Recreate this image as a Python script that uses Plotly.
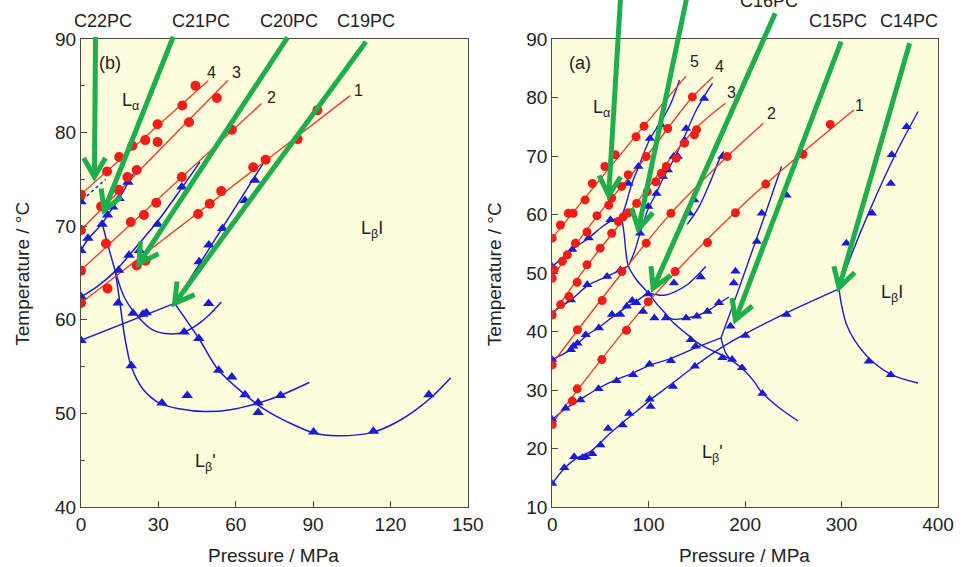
import math
import plotly.graph_objects as go

# ---------------------------------------------------------------
# Temperature-pressure phase diagrams of saturated diacyl PCs
# (b) C19PC-C22PC   (a) C14PC-C18PC
# ---------------------------------------------------------------

# ---- panel (b): red transition lines (pressure MPa, temperature C) ----
B_RED_LINE_1 = [(0, 61.8), (104.4, 83.95)]
B_RED_LINE_2 = [(0, 65.3), (70, 83.1)]
B_RED_LINE_3 = [(0, 69.6), (57, 85.6)]
B_RED_LINE_4 = [(0, 73.4), (49.3, 85.55)]

B_RED_DOTS = [
    (0, 61.8), (10.3, 63.35), (21.6, 65.8), (25, 66.3), (45.4, 71.3), (49.9, 72.4),
    (54.4, 73.75), (66.8, 76.3), (71.6, 77.1), (84, 79.3), (91.7, 82.4),
    (0, 65.25), (9.7, 68.15), (19.3, 70.45), (24.4, 71.2), (29.2, 72.5), (39.1, 75.25), (58.5, 80.3),
    (0, 69.6), (7.8, 72.1), (14.6, 73.9), (18, 75.25), (21.6, 76.0), (29.7, 79.0), (41.9, 81.1), (52.7, 83.7),
    (0, 73.35), (10.1, 75.85), (14.8, 77.4), (19.9, 78.6), (24.9, 79.2), (29.7, 80.9), (39.3, 82.9), (44.4, 85.0),
]

# ---- panel (b): blue transition curves ----
B_BLUE_1 = [(0, 67.4), (2.7, 68.6), (8.2, 70.3), (12.3, 72.0), (14.8, 73.0), (18.2, 74.6), (20.3, 75.6)]
B_BLUE_2 = [(8.2, 70.3), (10.8, 67.6), (13.3, 65.2)]
B_BLUE_3 = [(0, 62.45), (6.5, 63.6), (13.3, 65.2), (19.9, 67.3), (29.5, 70.45), (39.1, 74.1), (46.1, 76.85)]
B_BLUE_4 = [(13.3, 65.2), (15.1, 61.8), (17, 58.1), (19.5, 55.0), (24, 52.6), (30.4, 51.1), (38, 50.5),
            (48.3, 50.2), (58, 50.4), (68.7, 51.1), (78, 52), (88.5, 53.3)]
B_BLUE_5 = [(13.3, 65.2), (17, 62.3), (22.7, 60.15), (28, 58.9), (34.2, 58.5), (40, 58.7), (45.7, 59.6),
            (50, 60.6), (54.4, 61.9)]
B_BLUE_6 = [(0, 57.8), (36.3, 61.75)]
B_BLUE_7 = [(36.3, 61.75), (45.7, 58.0), (53.4, 54.6), (63.6, 52.0), (71.3, 50.4), (80, 49.1), (90.4, 47.9),
            (99.3, 47.6), (113.4, 48.0), (122, 49), (130, 50.4), (137, 52), (143.4, 53.8)]
B_BLUE_8 = [(36.3, 61.75), (71.3, 77.0)]
B_BLUE_DOTTED = [(0.5, 72.8), (9.5, 75.0)]

B_BLUE_TRIANGLES = [
    (0, 72.6), (0, 67.4), (0, 62.5), (0, 57.8),
    (2.7, 68.7), (8.2, 70.2), (10.3, 71.2), (12.3, 72.05), (14.8, 72.95), (18.2, 74.7),
    (14.6, 65.3), (18.6, 66.9), (22.7, 67.4), (29.7, 70.2), (39.1, 74.2),
    (14.4, 61.8), (19.5, 55.1), (31.4, 51.1), (41.2, 51.9), (68.7, 50.1), (68.7, 51.15), (77.4, 51.9),
    (20.2, 60.7), (24, 60.6), (25.3, 60.75), (40, 58.7), (49.5, 61.75),
    (45.7, 58.0), (53.4, 54.6), (58.5, 53.9), (63.6, 52.0), (90.2, 48.0), (113.4, 48.1), (134.9, 52.0),
    (45.8, 66.2), (49.6, 68.0), (54.9, 69.75), (63.6, 72.75), (67.4, 74.9),
]

# ---- panel (a): red transition lines ----
A_RED_LINE_1 = [(0, 24.3), (100, 45.1), (200, 62.0), (312.8, 77.85)]
A_RED_LINE_2 = [(0, 34.5), (72.3, 50.0), (123, 60.2), (182, 70.0), (219, 75.6)]
A_RED_LINE_3 = [(0, 42.7), (36, 51.2), (79, 60.2), (147, 74.4), (179.7, 79.0)]
A_RED_LINE_4 = [(0, 49.3), (46, 59.6), (98, 70.0), (145, 80.0), (166.8, 83.5)]
A_RED_LINE_5 = [(0, 55.95), (95, 75.1), (138.8, 83.65)]

A_RED_DOTS = [
    (0, 24.1), (20.8, 28.1), (25.9, 30.2), (51.5, 35.2), (77, 40.2), (99.6, 45.1), (127.5, 50.25),
    (161, 55.2), (190, 60.3), (221.4, 65.2), (260, 70.3), (288.3, 75.4),
    (0, 34.3), (26.2, 40.3), (51.8, 45.3), (72.3, 50.25), (97.5, 55.1), (123.1, 60.2), (181.5, 69.9),
    (0, 42.8), (8.8, 44.6), (17.4, 46.0), (25.9, 48.4), (36.1, 51.4), (49.7, 54.25), (61.7, 56.8),
    (68.6, 58.8), (73.7, 59.6), (79.1, 60.3), (87.6, 61.9), (98.6, 63.9), (107.5, 65.6), (113.2, 67.05),
    (118.3, 68.2), (128.6, 69.6), (137.2, 72.2), (147.4, 73.6), (149.7, 74.5),
    (0, 49.1), (2, 50.55), (10.5, 52.0), (15.7, 53.1), (24.2, 55.1), (36.1, 57.0), (46.4, 59.8),
    (58.6, 61.6), (61.7, 62.8), (72, 64.8), (78.8, 66.8), (97.5, 69.9), (119.8, 74.7), (145.3, 80.1),
    (0, 55.95), (8.5, 58.2), (16.7, 60.2), (21.8, 60.2), (34.1, 62.5), (41.6, 65.3), (54.6, 68.2),
    (65.5, 70.2), (87, 73.3), (95.2, 75.1),
]

# ---- panel (a): blue transition curves ----
A_BLUE_1 = [(0, 14), (12.6, 16.6), (25, 18.3), (40, 19.5), (50, 21), (60, 22.6), (75, 24.7), (90, 26.7),
            (100, 28.1), (125, 31.2), (148, 34.1), (165, 36.1), (180, 37.7), (200, 39.6), (243, 43.2),
            (297.4, 47.3)]
A_BLUE_2 = [(0, 24.95), (13.9, 26.8), (29.3, 28.4), (48.1, 30.3), (66.8, 31.8), (83.9, 32.9),
            (100.9, 34.2), (123.1, 35.4), (148.7, 37.2), (175, 38.9)]
A_BLUE_3 = [(175, 38.9), (183, 42.5), (195, 48), (210, 55), (222, 60.6), (237.8, 68.2)]
A_BLUE_4 = [(175, 38.9), (180, 36.3), (186, 35.0)]
A_BLUE_5 = [(72, 59.6), (74.5, 56.8), (76.5, 53.5), (79, 51.2), (87.6, 48.8), (99.6, 46.6), (108, 44.8),
            (116.7, 43.2), (125.2, 41.6), (142.3, 39.2), (152.5, 37.9), (165, 36.8), (179.7, 35.7),
            (190, 34.6), (200, 33.2), (210, 31.3), (217.3, 29.6), (235, 27), (254.9, 24.7)]
A_BLUE_6 = [(0, 35.2), (19.4, 36.9), (34.8, 39.2), (48.4, 40.7), (62, 42.4), (77.4, 44.2), (90, 45.5),
            (99.6, 46.6)]
A_BLUE_7 = [(99.6, 46.6), (108, 46.3), (116, 46.2), (126, 46.7), (140, 48), (150, 49.5), (159.3, 51.1)]
A_BLUE_8 = [(116, 42.9), (125.2, 42.1), (138.8, 42.3), (150, 42.7), (161, 43.5), (172.9, 44.8),
            (183.2, 45.9)]
A_BLUE_9 = [(0, 51.1), (20.8, 54), (37.9, 56), (51.8, 57.9), (62, 59.0), (72, 59.6)]
A_BLUE_10 = [(72, 59.6), (76, 61.5), (82.5, 65.2), (89.4, 68.1), (101.3, 72.9), (111.6, 75.6),
             (122, 78.6), (132, 83)]
A_BLUE_11 = [(0, 43.3), (19.4, 45.4), (36.4, 47.8), (56.9, 49.4), (70.6, 50.5), (79, 51.2)]
A_BLUE_12 = [(79, 51.2), (85, 53.5), (91.1, 56.8), (99.6, 61.0), (108.1, 63.7), (115, 66.2), (125, 69.1),
             (138, 73.6), (148, 77.4), (157.6, 80.2), (166.2, 82.4)]
A_BLUE_13 = [(140, 58.3), (152.5, 61.4), (165, 66), (174.6, 69.9), (178, 70.8)]
A_BLUE_14 = [(297.4, 47.3), (310, 53), (330, 61), (355, 70), (379.3, 77.6)]
A_BLUE_15 = [(297.4, 47.3), (300, 44.5), (305, 41.3), (312.8, 38.7), (329.9, 35.2), (352.1, 32.6),
             (379.3, 31.2)]

A_BLUE_TRIANGLES = [
    (0, 14), (12.6, 16.7), (22.8, 18.6), (31.3, 18.4), (35, 18.6), (41.6, 19.1), (50.1, 20.6), (57.9, 23.4),
    (73, 24.0), (79.8, 26.0), (101, 28.4), (102, 27.2), (125.2, 30.6), (148, 34.05), (200.3, 39.3),
    (242.9, 42.9),
    (0, 24.95), (13.9, 26.9), (29.3, 28.3), (48.1, 30.2), (66.8, 31.6), (83.9, 32.6), (100.9, 34.4),
    (123.1, 35.0), (148.7, 37.5),
    (176.4, 35.5), (186.5, 35.2), (196.8, 33.8), (218, 29.4),
    (87.3, 44.9), (94.2, 43.4), (106, 42.3), (118, 42.3), (143.6, 38.6),
    (0, 35.2), (19.4, 36.9), (22, 37.5), (26.2, 38.0), (34.8, 39.45), (48.4, 40.6), (62, 42.9), (70.5, 42.9),
    (77.4, 44.3), (83, 45.3), (99.6, 46.4),
    (126.2, 48.3), (154.1, 49.3),
    (138.8, 42.3), (150, 42.6), (161, 43.4), (172.9, 44.9),
    (19.4, 45.4), (36.4, 48), (56.9, 49.4), (70.6, 50.5),
    (0, 51.1), (20.8, 54), (37.9, 56), (60.4, 59.1),
    (79.1, 65.3), (89.4, 68.2), (101.3, 73), (112.9, 75.3),
    (91.1, 56.8), (99.6, 61.35), (108.1, 63.6), (114.9, 66.5), (120, 67.6), (125.9, 69.9), (130.3, 69.9),
    (137.2, 72.7), (138.8, 74.7), (157.6, 79.85),
    (142.3, 60.2), (147.4, 62.5), (176.4, 69.9),
    (184.9, 40.9), (188.3, 48.3), (190, 50.3), (212.2, 55.4), (217.3, 60.2), (243, 63.3),
    (305, 55.1), (331.6, 60.2), (351.1, 65.3), (352.1, 70.2), (367.5, 75),
    (328.2, 34.9), (351.1, 32.6),
]

# ---- lipid arrows: name and the (pressure, temperature) point it marks ----
B_LIPIDS = ["C22PC", "C21PC", "C20PC", "C19PC"]
B_LIPID_POINTS = [(5.2, 75.25), (9.0, 71.7), (22.5, 66.0), (36.3, 61.75)]
A_LIPIDS = ["", "", "C16PC", "C15PC", "C14PC"]
A_LIPID_POINTS = [(58.6, 63.3), (89.4, 57.5), (104.7, 47.4), (190, 42.0), (297.4, 47.5)]

# ---------------------------------------------------------------
# layout geometry and styling
# ---------------------------------------------------------------
FONT = "Liberation Sans, Arial, Helvetica, sans-serif"
W, H = 966, 567
ML, MR, MT, MB = 81, 18, 39, 60
PW, PH = W - ML - MR, H - MT - MB
DOM_B = (0.0, 0.4513)
DOM_A = (0.5498, 1.0)
XR_B, YR_B = (0, 150), (40, 90)
XR_A, YR_A = (0, 400), (10, 90)

RED_DOT = "#f21d16"
RED_LINE = "#ec3a26"
BLUE = "#1b1bd6"
GREEN = "#1fae4c"
PANEL_BG = "#fdfcdb"
FRAME = "#4a4a4a"
TEXT = "#222222"

fig = go.Figure()


def add_curve(pts, xa, ya, color, width, spline=True, dash="solid"):
    fig.add_trace(go.Scatter(
        x=[p[0] for p in pts], y=[p[1] for p in pts], mode="lines",
        line=dict(color=color, width=width, shape="spline" if spline else "linear",
                  smoothing=0.9, dash=dash),
        xaxis=xa, yaxis=ya, hoverinfo="skip", showlegend=False))


def add_points(pts, xa, ya, color, symbol, size):
    fig.add_trace(go.Scatter(
        x=[p[0] for p in pts], y=[p[1] for p in pts], mode="markers",
        marker=dict(color=color, symbol=symbol, size=size, line=dict(width=0)),
        xaxis=xa, yaxis=ya, hoverinfo="skip", showlegend=False))


# panel (b)
for c in (B_BLUE_1, B_BLUE_2, B_BLUE_3, B_BLUE_4, B_BLUE_5, B_BLUE_6, B_BLUE_7, B_BLUE_8):
    add_curve(c, "x", "y", BLUE, 1.5)
add_curve(B_BLUE_DOTTED, "x", "y", BLUE, 1.5, spline=False, dash="dot")
for c in (B_RED_LINE_1, B_RED_LINE_2, B_RED_LINE_3, B_RED_LINE_4):
    add_curve(c, "x", "y", RED_LINE, 1.3, spline=False)
add_points(B_BLUE_TRIANGLES, "x", "y", BLUE, "triangle-up", 10)
add_points(B_RED_DOTS, "x", "y", RED_DOT, "circle", 10)

# panel (a)
for c in (A_BLUE_1, A_BLUE_2, A_BLUE_3, A_BLUE_4, A_BLUE_5, A_BLUE_6, A_BLUE_7, A_BLUE_8,
          A_BLUE_9, A_BLUE_10, A_BLUE_11, A_BLUE_12, A_BLUE_13, A_BLUE_14, A_BLUE_15):
    add_curve(c, "x2", "y2", BLUE, 1.4)
for c in (A_RED_LINE_1, A_RED_LINE_2, A_RED_LINE_3, A_RED_LINE_4, A_RED_LINE_5):
    add_curve(c, "x2", "y2", RED_LINE, 1.3)
add_points(A_BLUE_TRIANGLES, "x2", "y2", BLUE, "triangle-up", 9)
add_points(A_RED_DOTS, "x2", "y2", RED_DOT, "circle", 9)


def data_to_px(p, t, dom, xr, yr):
    fx = (p - xr[0]) / (xr[1] - xr[0])
    fy = (t - yr[0]) / (yr[1] - yr[0])
    return ML + PW * (dom[0] + (dom[1] - dom[0]) * fx), MT + PH * (1 - fy)


def px_to_paper(px, py):
    return (px - ML) / PW, (H - MB - py) / PH


def arrow_shape(tip_px, tail_px, head=22.0, spread=30.0):
    tx, ty = tip_px
    sx, sy = tail_px
    d = math.hypot(tx - sx, ty - sy)
    bx, by = (sx - tx) / d, (sy - ty) / d
    pts = []
    for a in (math.radians(spread), -math.radians(spread)):
        hx = tx + head * (bx * math.cos(a) - by * math.sin(a))
        hy = ty + head * (bx * math.sin(a) + by * math.cos(a))
        pts.append(px_to_paper(hx, hy))
    s = px_to_paper(sx, sy)
    t = px_to_paper(tx, ty)
    path = (f"M {s[0]:.5f},{s[1]:.5f} L {t[0]:.5f},{t[1]:.5f} "
            f"M {pts[0][0]:.5f},{pts[0][1]:.5f} L {t[0]:.5f},{t[1]:.5f} L {pts[1][0]:.5f},{pts[1][1]:.5f}")
    return dict(type="path", xref="paper", yref="paper", path=path, layer="above",
                line=dict(color=GREEN, width=5), fillcolor="rgba(0,0,0,0)")


def paper_text(text, px, py, size=18, angle=0):
    x, y = px_to_paper(px, py)
    return dict(text=text, x=x, y=y, xref="paper", yref="paper", showarrow=False,
                xanchor="center", yanchor="middle", textangle=angle,
                font=dict(family=FONT, size=size, color=TEXT))


def data_text(text, p, t, xa, ya, size=18):
    return dict(text=text, x=p, y=t, xref=xa, yref=ya, showarrow=False,
                xanchor="center", yanchor="middle",
                font=dict(family=FONT, size=size, color=TEXT))


shapes = []
annotations = []

# arrow tails sit under the lipid names above the frames
B_TAILS = [(95.7, 37.0), (174.3, 36.7), (290.0, 37.3), (369.3, 41.7)]
B_NAME_POS = [(103, 21), (202.5, 21), (291.5, 21), (369, 21)]
A_TAILS = [(627.3, -10.0), (695.4, -10.0), (783.3, 13.3), (850.0, 41.7), (919.3, 43.3)]
A_NAME_POS = [None, None, (777, 1), (846.7, 21.5), (919, 21.5)]

for name, pt, tail, npos in zip(B_LIPIDS, B_LIPID_POINTS, B_TAILS, B_NAME_POS):
    shapes.append(arrow_shape(data_to_px(pt[0], pt[1], DOM_B, XR_B, YR_B), tail))
    annotations.append(paper_text(name, npos[0], npos[1], size=18))
for name, pt, tail, npos in zip(A_LIPIDS, A_LIPID_POINTS, A_TAILS, A_NAME_POS):
    shapes.append(arrow_shape(data_to_px(pt[0], pt[1], DOM_A, XR_A, YR_A), tail))
    if name:
        annotations.append(paper_text(name, npos[0], npos[1], size=18))

# phase labels, panel tags and line numbers
annotations += [
    data_text("(b)", 11.1, 87.4, "x", "y"),
    data_text("L<sub>α</sub>", 19.2, 83.3, "x", "y"),
    data_text("L<sub>β</sub>I", 112.7, 69.6, "x", "y"),
    data_text("L<sub>β</sub>'", 48.3, 44.8, "x", "y"),
    data_text("4", 50.7, 86.4, "x", "y", 16),
    data_text("3", 60.3, 86.4, "x", "y", 16),
    data_text("2", 73.7, 83.8, "x", "y", 16),
    data_text("1", 107.6, 84.55, "x", "y", 16),
    data_text("(a)", 29, 85.85, "x2", "y2"),
    data_text("L<sub>α</sub>", 51.5, 78.2, "x2", "y2"),
    data_text("L<sub>β</sub>'", 166.3, 19.1, "x2", "y2"),
    data_text("L<sub>β</sub>I", 352.8, 46.5, "x2", "y2"),
    data_text("5", 147.6, 86.1, "x2", "y2", 16),
    data_text("4", 173.2, 85.3, "x2", "y2", 16),
    data_text("3", 186.1, 80.8, "x2", "y2", 16),
    data_text("2", 227.8, 77.3, "x2", "y2", 16),
    data_text("1", 318.3, 78.7, "x2", "y2", 16),
]

# axis titles
annotations += [
    paper_text("Pressure / MPa", 276, 555, size=19),
    paper_text("Pressure / MPa", 752.5, 555, size=19),
    paper_text("Temperature / °C", 21, 274, size=19, angle=-90),
    paper_text("Temperature / °C", 499, 274, size=19, angle=-90),
]

axis_common = dict(
    showgrid=False, zeroline=False, showline=True, mirror=True, linecolor=FRAME, linewidth=1.2,
    ticks="inside", ticklen=6, tickwidth=1, tickcolor=FRAME,
    tickfont=dict(family=FONT, size=19, color=TEXT),
)

fig.update_layout(
    width=W, height=H,
    margin=dict(l=ML, r=MR, t=MT, b=MB),
    paper_bgcolor="white", plot_bgcolor=PANEL_BG,
    showlegend=False,
    xaxis=dict(domain=list(DOM_B), range=list(XR_B), tickvals=[0, 30, 60, 90, 120, 150],
               anchor="y", **axis_common),
    yaxis=dict(domain=[0, 1], range=list(YR_B), tickvals=[40, 50, 60, 70, 80, 90], anchor="x",
               minor=dict(tickvals=[45, 55, 65, 75, 85], ticks="inside", ticklen=4, tickcolor=FRAME),
               **axis_common),
    xaxis2=dict(domain=list(DOM_A), range=list(XR_A), tickvals=[0, 100, 200, 300, 400],
                anchor="y2", **axis_common),
    yaxis2=dict(domain=[0, 1], range=list(YR_A), tickvals=list(range(10, 91, 10)), anchor="x2",
                **axis_common),
    shapes=shapes,
    annotations=annotations,
)

fig.write_html("out.html")
